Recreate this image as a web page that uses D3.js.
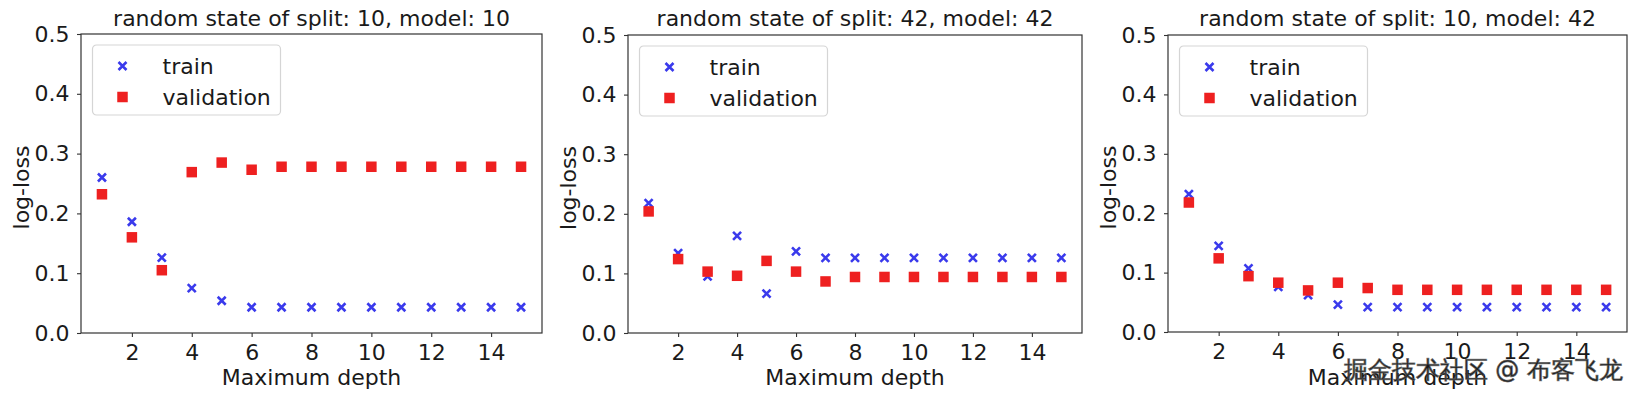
<!DOCTYPE html>
<html>
<head>
<meta charset="utf-8">
<script src="https://cdn.jsdelivr.net/npm/d3@7"></script>
<style>
  html, body { margin: 0; padding: 0; background: #fff; }
  svg { display: block; }
  text { font-family: "DejaVu Sans", sans-serif; fill: #1a1a1a; }
</style>
</head>
<body>
<svg id="chart" width="1638" height="398"></svg>
<script>
// ---- data ----
const depths = [1, 2, 3, 4, 5, 6, 7, 8, 9, 10, 11, 12, 13, 14, 15];
const titles = [
  "random state of split: 10, model: 10",
  "random state of split: 42, model: 42",
  "random state of split: 10, model: 42"
];
const train1 = [0.260, 0.186, 0.126, 0.075, 0.054, 0.043, 0.043, 0.043, 0.043, 0.043, 0.043, 0.043, 0.043, 0.043, 0.043];
const valid1 = [0.232, 0.160, 0.105, 0.269, 0.285, 0.273, 0.278, 0.278, 0.278, 0.278, 0.278, 0.278, 0.278, 0.278, 0.278];
const train2 = [0.218, 0.134, 0.095, 0.163, 0.066, 0.137, 0.126, 0.126, 0.126, 0.126, 0.126, 0.126, 0.126, 0.126, 0.126];
const valid2 = [0.204, 0.124, 0.103, 0.096, 0.121, 0.103, 0.0865, 0.094, 0.094, 0.094, 0.094, 0.094, 0.094, 0.094, 0.094];
const train3 = [0.232, 0.145, 0.107, 0.076, 0.062, 0.046, 0.042, 0.042, 0.042, 0.042, 0.042, 0.042, 0.042, 0.042, 0.042];
const valid3 = [0.218, 0.124, 0.094, 0.083, 0.070, 0.083, 0.074, 0.071, 0.071, 0.071, 0.071, 0.071, 0.071, 0.071, 0.071];
const xTicks = [2, 4, 6, 8, 10, 12, 14];
const yTicks = [0.0, 0.1, 0.2, 0.3, 0.4, 0.5];
const seriesNames = ["train", "validation"];
const xLabel = "Maximum depth";
const yLabel = "log-loss";
const watermark = "掘金技术社区 @ 布客飞龙";

// ---- layout ----
const panels = [
  { left: 81,   right: 542,  top: 34, bottom: 333, train: train1, valid: valid1 },
  { left: 628,  right: 1082, top: 35, bottom: 333, train: train2, valid: valid2 },
  { left: 1168, right: 1627, top: 35, bottom: 332, train: train3, valid: valid3 }
];
const FS = 22;
const blue = "rgb(58,58,236)";
const red = "rgb(238,32,32)";
const spine = "#333";

const svg = d3.select("#chart");

function drawX(g, x, y, s) {
  g.append("path")
    .attr("d", `M${x - s/2},${y - s/2}L${x + s/2},${y + s/2}M${x - s/2},${y + s/2}L${x + s/2},${y - s/2}`)
    .attr("stroke", blue).attr("stroke-width", 2.6).attr("fill", "none");
}
function drawSq(g, x, y, s) {
  g.append("rect")
    .attr("x", x - s/2).attr("y", y - s/2).attr("width", s).attr("height", s)
    .attr("fill", red);
}

panels.forEach((p, i) => {
  const W = p.right - p.left, H = p.bottom - p.top;
  const g = svg.append("g").attr("transform", `translate(${p.left},${p.top})`);
  const x = d3.scaleLinear().domain([0.3, 15.7]).range([0, W]);
  const y = d3.scaleLinear().domain([0, 0.5]).range([H, 0]);

  // axes
  const xa = g.append("g").attr("transform", `translate(0,${H})`)
    .call(d3.axisBottom(x).tickValues(xTicks).tickSize(4).tickPadding(7.4).tickFormat(d3.format("d")));
  const ya = g.append("g")
    .call(d3.axisLeft(y).tickValues(yTicks).tickSize(4).tickPadding(7.5).tickFormat(d3.format(".1f")));
  [xa, ya].forEach(a => {
    a.select(".domain").remove();
    a.selectAll("line").attr("stroke", spine).attr("stroke-width", 1.1);
    a.selectAll("text").attr("font-size", FS).attr("font-family", "DejaVu Sans").attr("fill", "#1a1a1a");
  });

  // frame
  g.append("rect").attr("x", 0).attr("y", 0).attr("width", W).attr("height", H)
    .attr("fill", "none").attr("stroke", spine).attr("stroke-width", 1.2);

  // points
  const pts = g.append("g");
  depths.forEach((d, k) => drawX(pts, x(d), y(p.train[k]), 8));
  depths.forEach((d, k) => drawSq(pts, x(d), y(p.valid[k]), 10.5));

  // title
  g.append("text").attr("x", W / 2).attr("y", 26 - p.top)
    .attr("text-anchor", "middle").attr("font-size", FS).text(titles[i]);
  // x label
  g.append("text").attr("x", W / 2).attr("y", 385 - p.top)
    .attr("text-anchor", "middle").attr("font-size", FS).text(xLabel);
  // y label
  g.append("text").attr("transform", `translate(${-60},${H / 2 + 4}) rotate(-90)`)
    .attr("text-anchor", "middle").attr("dy", "0.35em").attr("font-size", FS).text(yLabel);

  // legend
  const lg = g.append("g").attr("transform", "translate(11.5,11)");
  lg.append("rect").attr("x", 0).attr("y", 0).attr("width", 188).attr("height", 70)
    .attr("rx", 4).attr("fill", "rgba(255,255,255,0.8)").attr("stroke", "#d5d5d5").attr("stroke-width", 1.2);
  drawX(lg, 30, 21, 8);
  drawSq(lg, 30, 52, 10.5);
  lg.append("text").attr("x", 70).attr("y", 21).attr("dy", "0.35em").attr("font-size", FS).text(seriesNames[0]);
  lg.append("text").attr("x", 70).attr("y", 52).attr("dy", "0.35em").attr("font-size", FS).text(seriesNames[1]);
});

// watermark (overlaps the third x label, as in the reference)
svg.append("text").attr("x", 1623).attr("y", 378)
  .attr("text-anchor", "end")
  .attr("font-family", "Noto Sans CJK SC, sans-serif")
  .attr("font-size", 24)
  .attr("fill", "rgba(235,235,235,0.85)")
  .attr("stroke", "rgba(90,90,90,0.75)")
  .attr("stroke-width", 0.9)
  .text(watermark);
</script>
</body>
</html>
